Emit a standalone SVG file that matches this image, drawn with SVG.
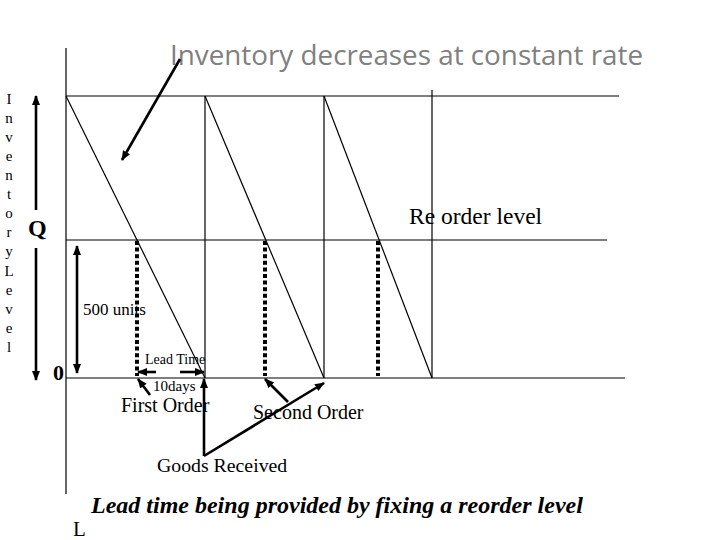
<svg xmlns="http://www.w3.org/2000/svg" width="720" height="540" viewBox="0 0 720 540">
<style>
.thin{stroke:#000;stroke-width:1.2;fill:none}
.arr{stroke:#000;stroke-width:2.6;fill:none;marker-end:url(#ah)}
.dot{stroke:#000;stroke-width:4;stroke-dasharray:4 2.6;fill:none}
.serif{font-family:"Liberation Serif","Times New Roman",serif;fill:#000}
.vert{font-family:"Liberation Serif","Times New Roman",serif;font-size:15px;fill:#000;text-anchor:middle}
</style>
<defs>
<marker id="ah" markerUnits="userSpaceOnUse" markerWidth="10" markerHeight="10" viewBox="0 0 10 10" refX="9" refY="5" orient="auto">
<path d="M0,1 L10,5 L0,9 z" fill="#000"/>
</marker>
</defs>
<rect width="720" height="540" fill="#fff"/>

<g id="axes">
<line class="thin" x1="66" y1="48" x2="66" y2="494"/>
<line class="thin" x1="66" y1="96" x2="619" y2="96"/>
<line class="thin" x1="66" y1="240" x2="607" y2="240"/>
<line class="thin" x1="66" y1="378" x2="625" y2="378"/>
<line class="thin" x1="205" y1="96" x2="205" y2="378"/>
<line class="thin" x1="324" y1="96" x2="324" y2="378"/>
<line class="thin" x1="432" y1="90" x2="432" y2="378"/>
</g>

<g id="sawtooth">
<line class="thin" x1="66" y1="96" x2="205" y2="378"/>
<line class="thin" x1="205" y1="96" x2="324" y2="378"/>
<line class="thin" x1="324" y1="96" x2="432" y2="378"/>
</g>

<g id="reorder-points">
<line class="dot" x1="137" y1="241" x2="137" y2="376"/>
<line class="dot" x1="265" y1="241" x2="265" y2="376"/>
<line class="dot" x1="378" y1="241" x2="378" y2="376"/>
</g>

<g id="y-label">
<text class="vert" x="9" y="104">I</text>
<text class="vert" x="9" y="123">n</text>
<text class="vert" x="9" y="142">v</text>
<text class="vert" x="9" y="161">e</text>
<text class="vert" x="9" y="180">n</text>
<text class="vert" x="9" y="199">t</text>
<text class="vert" x="9" y="218">o</text>
<text class="vert" x="9" y="237">r</text>
<text class="vert" x="9" y="256">y</text>
<text class="vert" x="9" y="276">L</text>
<text class="vert" x="9" y="295">e</text>
<text class="vert" x="9" y="314">v</text>
<text class="vert" x="9" y="333">e</text>
<text class="vert" x="9" y="352">l</text>
</g>

<g id="q-axis">
<line class="arr" x1="36" y1="210" x2="36" y2="96"/>
<line class="arr" x1="36" y1="248" x2="36" y2="380"/>
<text class="serif" x="28" y="236" font-size="24" font-weight="bold">Q</text>
<text class="serif" x="53" y="380" font-size="22" font-weight="bold">0</text>
</g>

<g id="units">
<line class="arr" x1="77" y1="300" x2="77" y2="246"/>
<line class="arr" x1="77" y1="300" x2="77" y2="373"/>
<text class="serif" x="83" y="315" font-size="17">500 units</text>
</g>

<g id="title">
<text x="170" y="65" font-family="'Open Sans','Noto Sans',sans-serif" font-size="27" fill="#808080" textLength="473" lengthAdjust="spacingAndGlyphs">Inventory decreases at constant rate</text>
</g>

<g id="reorder-label">
<text class="serif" x="409" y="224" font-size="23.5">Re order level</text>
</g>

<g id="lead-time">
<text class="serif" x="145" y="364" font-size="14">Lead Time</text>
<line class="arr" x1="156" y1="372" x2="138" y2="372"/>
<line class="arr" x1="180" y1="372" x2="204" y2="372"/>
<text class="serif" x="153" y="391" font-size="15">10days</text>
</g>

<g id="first-order">
<text class="serif" x="121" y="412" font-size="20">First Order</text>
</g>
<g id="second-order">
<text class="serif" x="253" y="419" font-size="20">Second Order</text>
</g>
<g id="goods-received">
<text class="serif" x="157" y="472" font-size="19.8">Goods Received</text>
</g>

<g id="connectors">
<line class="arr" x1="180" y1="59" x2="122" y2="160"/>
<line class="arr" x1="150" y1="395" x2="138" y2="379"/>
<line class="arr" x1="288" y1="402" x2="265" y2="379"/>
<line class="arr" x1="204" y1="456" x2="204" y2="379"/>
<line class="arr" x1="204" y1="456" x2="324" y2="383"/>
</g>

<g id="caption">
<text class="serif" x="91" y="513" font-size="24" font-weight="bold" font-style="italic">Lead time being provided by fixing a reorder level</text>
<text class="serif" x="73" y="536" font-size="21">L</text>
</g>
</svg>
